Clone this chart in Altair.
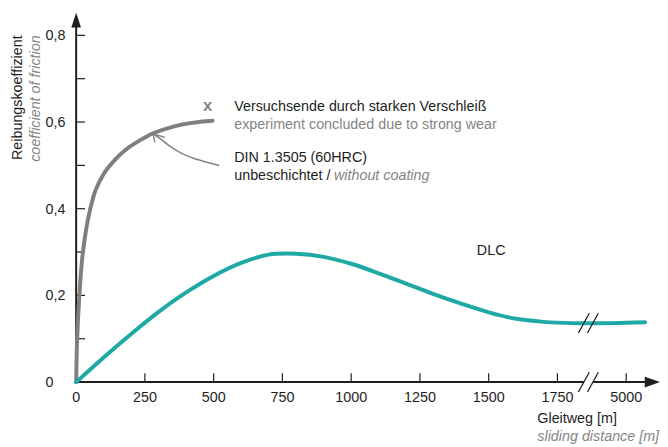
import altair as alt
import pandas as pd

FONT = "Liberation Sans"
INK = "#1e1e1e"
GREY = "#858585"
STEEL = "#7f7f7f"
TEAL = "#1fa9a4"

# ---- data (sliding distance in m, coefficient of friction) ----
steel_x = [0, 3.6, 10.8, 21.6, 35.9, 50.3, 70.8, 100, 140, 180, 230, 280, 350, 420, 496]
steel_y = [0, 0.100, 0.191, 0.283, 0.351, 0.397, 0.443, 0.480, 0.512, 0.536, 0.557, 0.574,
           0.589, 0.598, 0.603]

dlc_x = [0, 100, 200, 300, 400, 500, 600, 700, 800, 900, 1000, 1100, 1200, 1300, 1400,
         1500, 1600, 1700, 1800, 4950, 5069]
dlc_y = [0, 0.057, 0.111, 0.162, 0.207, 0.245, 0.275, 0.294, 0.296, 0.289, 0.273, 0.251,
         0.227, 0.203, 0.181, 0.161, 0.146, 0.139, 0.136, 0.136, 0.138]

x_tick_values = [250, 500, 750, 1000, 1250, 1500, 1750, 5000]
x_label_values = [0, 250, 500, 750, 1000, 1250, 1500, 1750, 5000]
x_label_texts = ["0", "250", "500", "750", "1000", "1250", "1500", "1750", "5000"]

y_tick_values = [0.1, 0.2, 0.3, 0.4, 0.5, 0.6, 0.7, 0.8]
y_label_values = [0, 0.2, 0.4, 0.6, 0.8]
y_label_texts = ["0", "0,2", "0,4", "0,6", "0,8"]

# broken axis: values beyond the break are shifted left
BREAK_AT = 1875
BREAK_SHIFT = 3000
XP_EXPR = f"datum.x > {BREAK_AT} ? datum.x - {BREAK_SHIFT} : datum.x"
X_MAX = 2123
Y_MAX = 0.8524
break_marks_x = [1846, 1879]
break_marks_y = [0, 0.136]
SLASH_DX = 19.8
SLASH_DY = 0.0228

xs = alt.Scale(domain=[0, X_MAX], nice=False, zero=False)
ys = alt.Scale(domain=[0, Y_MAX], nice=False, zero=False)


def cx(field="xp"):
    return alt.X(f"{field}:Q", scale=xs, axis=None)


def cy(field="y"):
    return alt.Y(f"{field}:Q", scale=ys, axis=None)


def chart_xp(df):
    return alt.Chart(df).transform_calculate(xp=XP_EXPR)


# ---- axes ----
axis_y = alt.Chart(pd.DataFrame({"x": [0], "y": [0], "y2": [Y_MAX - 0.03]})).mark_rule(
    color=INK, strokeWidth=2).encode(x=cx("x"), y=cy("y"), y2="y2:Q")

axis_x = alt.Chart(pd.DataFrame({"x": [0, break_marks_x[1]],
                                 "x2": [break_marks_x[0], X_MAX - 10],
                                 "y": [0, 0]})).mark_rule(
    color=INK, strokeWidth=2).encode(x=cx("x"), x2="x2:Q", y=cy("y"))

arrow_up = alt.Chart(pd.DataFrame({"x": [0], "y": [Y_MAX]})).mark_point(
    shape="M0,-1L-0.65,1L0.65,1Z", filled=True, size=225, yOffset=7.5,
    color=INK, opacity=1, strokeWidth=0).encode(x=cx("x"), y=cy("y"))

arrow_right = alt.Chart(pd.DataFrame({"x": [X_MAX], "y": [0]})).mark_point(
    shape="M1,0L-1,-0.7L-1,0.7Z", filled=True, size=240, xOffset=-7.7,
    color=INK, opacity=1, strokeWidth=0).encode(x=cx("x"), y=cy("y"))

y_ticks = alt.Chart(pd.DataFrame({"x": 0, "x2": 32.3, "y": y_tick_values})).mark_rule(
    color=INK, strokeWidth=1.2).encode(x=cx("x"), x2="x2:Q", y=cy("y"))

x_ticks = chart_xp(pd.DataFrame({"x": x_tick_values, "y": 0, "y2": 0.0205})).mark_rule(
    color=INK, strokeWidth=1.2).encode(x=cx(), y=cy("y"), y2="y2:Q")

y_labels = alt.Chart(pd.DataFrame({"x": 0, "y": y_label_values, "t": y_label_texts})).mark_text(
    align="left", baseline="middle", dx=-31, dy=1, font=FONT, fontSize=14.5, color=INK).encode(
    x=cx("x"), y=cy("y"), text="t:N")

x_labels = chart_xp(pd.DataFrame({"x": x_label_values, "y": 0, "t": x_label_texts})).mark_text(
    align="center", baseline="middle", dy=16, font=FONT, fontSize=14.5, color=INK).encode(
    x=cx(), y=cy("y"), text="t:N")

# break slashes
slash_rows = []
for by in break_marks_y:
    for bx in break_marks_x:
        slash_rows.append({"x": bx - SLASH_DX, "x2": bx + SLASH_DX,
                           "y": by - SLASH_DY, "y2": by + SLASH_DY})
slashes = alt.Chart(pd.DataFrame(slash_rows)).mark_rule(color=INK, strokeWidth=1.3).encode(
    x=cx("x"), x2="x2:Q", y=cy("y"), y2="y2:Q")

# ---- curves ----
steel = chart_xp(pd.DataFrame({"x": steel_x, "y": steel_y})).mark_line(
    color=STEEL, strokeWidth=4, interpolate="catmull-rom", strokeCap="round").encode(
    x=cx(), y=cy())

dlc = chart_xp(pd.DataFrame({"x": dlc_x, "y": dlc_y})).mark_line(
    color=TEAL, strokeWidth=4, interpolate="catmull-rom", strokeCap="round").encode(
    x=cx(), y=cy())

# ---- annotation arrow ----
pointer_x = [280, 304, 334, 382, 442, 520]
pointer_y = [0.5725, 0.5625, 0.5475, 0.5283, 0.5133, 0.4996]
pointer = alt.Chart(pd.DataFrame({"x": pointer_x, "y": pointer_y})).mark_line(
    color=GREY, strokeWidth=1.6, interpolate="monotone").encode(x=cx("x"), y=cy("y"))
pointer_head = alt.Chart(pd.DataFrame({"x": [280, 280], "y": [0.5725, 0.5725],
                                       "x2": [286, 322], "y2": [0.553, 0.5648]})).mark_rule(
    color=GREY, strokeWidth=1.4).encode(x=cx("x"), x2="x2:Q", y=cy("y"), y2="y2:Q")

# ---- texts ----
def text_layer(x, y, t, color=INK, style="normal", weight="normal", size=14.5, align="left"):
    return alt.Chart(pd.DataFrame({"x": [x], "y": [y], "t": [t]})).mark_text(
        align=align, baseline="alphabetic", font=FONT, fontSize=size, color=color,
        fontStyle=style, fontWeight=weight).encode(x=cx("x"), y=cy("y"), text="t:N")


end_mark = text_layer(478, 0.625, "x", color=GREY, weight="bold", size=17, align="center")
t1 = text_layer(574.7, 0.6245, "Versuchsende durch starken Verschleiß")
t2 = text_layer(574.7, 0.5830, "experiment concluded due to strong wear", color=GREY)
t3 = text_layer(574.7, 0.5070, "DIN 1.3505 (60HRC)")
t4a = text_layer(574.7, 0.4670, "unbeschichtet / ")
t4b = text_layer(937.5, 0.4670, "without coating", color=GREY, style="italic")
t_dlc = text_layer(1457, 0.2935, "DLC")

# axis titles
def title_layer(xv, yv, t, color=INK, style="normal", angle=0, align="left"):
    return alt.Chart(pd.DataFrame({"t": [t]})).mark_text(
        align=align, baseline="middle", font=FONT, fontSize=14.5, color=color,
        fontStyle=style, angle=angle).encode(
        x=alt.value(xv), y=alt.value(yv), text="t:N")


y_title1 = title_layer(-58.5, 23, "Reibungskoeffizient", angle=270, align="right")
y_title2 = title_layer(-40.5, 23, "coefficient of friction", color=GREY, style="italic",
                       angle=270, align="right")
x_title1 = alt.Chart(pd.DataFrame({"x": [1677], "t": ["Gleitweg [m]"]})).mark_text(
    align="left", baseline="middle", font=FONT, fontSize=14.5, color=INK).encode(
    x=cx("x"), y=alt.value(411.7), text="t:N")
x_title2 = alt.Chart(pd.DataFrame({"x": [1677], "t": ["sliding distance [m]"]})).mark_text(
    align="left", baseline="middle", font=FONT, fontSize=14.5, color=GREY,
    fontStyle="italic").encode(x=cx("x"), y=alt.value(430), text="t:N")

chart = alt.layer(
    axis_y, axis_x, y_ticks, x_ticks, steel, dlc, slashes, arrow_up, arrow_right,
    y_labels, x_labels, pointer, pointer_head, end_mark, t1, t2, t3, t4a, t4b, t_dlc,
    y_title1, y_title2, x_title1, x_title2,
).properties(
    width=591, height=374,
    autosize=alt.AutoSizeParams(type="none"),
    padding={"left": 69, "top": 2, "right": 0, "bottom": 62},
    background="white",
).configure_view(stroke=None)

chart.save("out.html", embed_options={"renderer": "svg", "actions": False})
